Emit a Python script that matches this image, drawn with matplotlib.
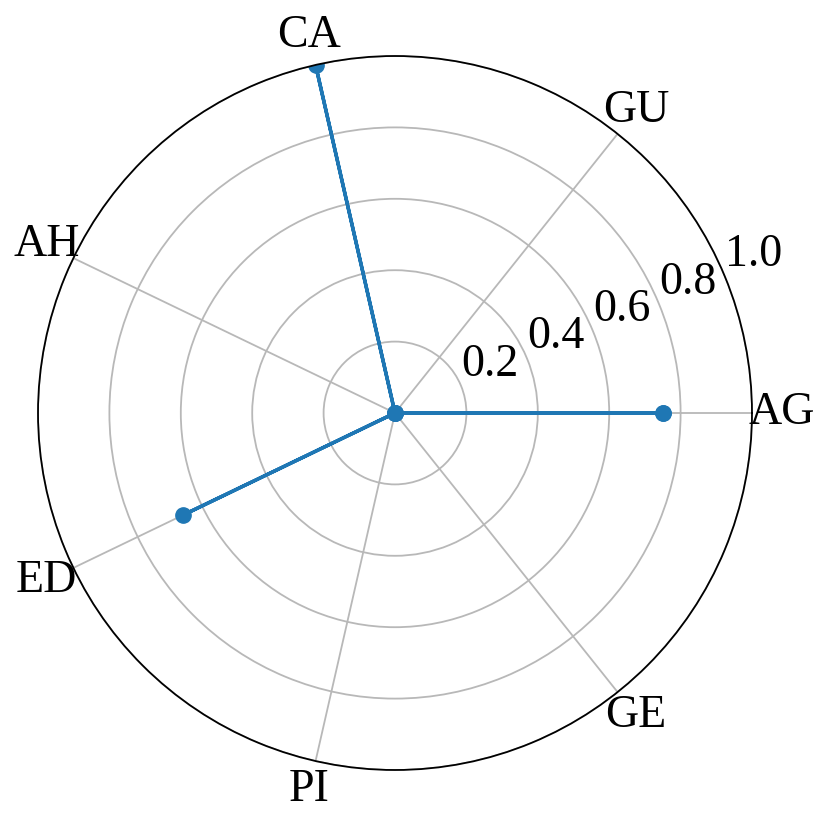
import matplotlib.pyplot as plt
import numpy as np

plt.rcParams.update(
    {
        "font.family": ["Liberation Serif", "DejaVu Serif"],
        "font.size": 33,
    }
)

categories = ["AG", "GU", "CA", "AH", "ED", "PI", "GE"]
values = [0.75, 0.0, 1.0, 0.0, 0.66, 0.0, 0.0]
r_ticks = [0.2, 0.4, 0.6, 0.8, 1.0]

angles = np.linspace(0, 2 * np.pi, len(categories), endpoint=False)
theta = np.append(angles, angles[0])
r = np.append(values, values[0])

fig = plt.figure(figsize=(8.31, 8.27), dpi=100)
ax = fig.add_axes([38 / 831, 57 / 827, 714 / 831, 714 / 827], projection="polar")
ax.plot(theta, r, color="#1f77b4", lw=2.5, marker="o", ms=11)
ax.set_xticks(angles)
ax.set_xticklabels(categories)
ax.set_ylim(0, 1.0)
ax.set_yticks(r_ticks)
ax.set_yticklabels([f"{t:.1f}" for t in r_ticks])
ax.set_rlabel_position(22.5)
ax.grid(color="#b8b8b8", lw=1.3)
ax.spines["polar"].set_color("black")
ax.spines["polar"].set_linewidth(1.3)
ax.tick_params(axis="x", pad=11)

fig.savefig("out.png", dpi=100)
